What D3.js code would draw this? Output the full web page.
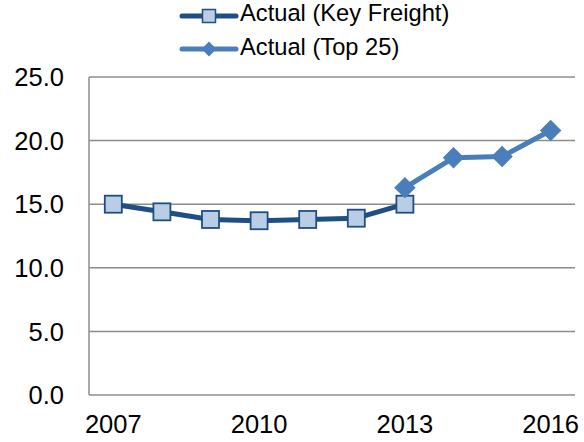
<!DOCTYPE html>
<html><head><meta charset="utf-8">
<script src="https://d3js.org/d3.v7.min.js"></script>
<style>body{margin:0;background:#fff}svg{display:block}text{font-family:"Liberation Sans",Arial,sans-serif;fill:#000}</style>
</head><body>
<script>
const years = [2007,2008,2009,2010,2011,2012,2013,2014,2015,2016];
const keyFreight = [15.0,14.4,13.8,13.7,13.8,13.9,15.0,null,null,null];
const top25 = [null,null,null,null,null,null,16.3,18.65,18.75,20.8];
const yTicks = [0,5,10,15,20,25];
const xTickLabels = [2007,2010,2013,2016];
const seriesNames = ["Actual (Key Freight)","Actual (Top 25)"];

const W=584,H=442;
const svg=d3.select("body").append("svg").attr("width",W).attr("height",H);
const m={l:89,r:9,t:77,b:47};
const x=d3.scalePoint().domain(years).range([m.l,W-m.r]).padding(0.5);
const y=d3.scaleLinear().domain([0,25]).range([H-m.b,m.t]);

svg.append("g").selectAll("line").data(yTicks.filter(d=>d>0)).join("line")
 .attr("x1",m.l).attr("x2",W-m.r).attr("y1",d=>y(d)).attr("y2",d=>y(d))
 .attr("stroke","#8c8c8c").attr("stroke-width",1.5);
svg.append("line").attr("x1",m.l).attr("x2",m.l).attr("y1",y(25)).attr("y2",y(0)).attr("stroke","#8c8c8c").attr("stroke-width",1.5);
svg.append("line").attr("x1",m.l).attr("x2",W-m.r).attr("y1",y(0)).attr("y2",y(0)).attr("stroke","#8c8c8c").attr("stroke-width",1.5);

svg.append("g").selectAll("text").data(yTicks).join("text")
 .attr("x",64).attr("y",d=>y(d)+9.2).attr("text-anchor","end")
 .attr("font-size",25.5).text(d=>d.toFixed(1));
svg.append("g").selectAll("text").data(xTickLabels).join("text")
 .attr("x",d=>x(d)).attr("y",433).attr("text-anchor","middle")
 .attr("font-size",25.5).text(d=>d);

const line=d3.line().defined(d=>d.v!=null).x(d=>x(d.y)).y(d=>y(d.v));
const kf=years.map((yr,i)=>({y:yr,v:keyFreight[i]}));
const tp=years.map((yr,i)=>({y:yr,v:top25[i]}));

const cDark="#1f4e85", cFill="#b9cde5", cMid="#4a7ebb";

svg.append("path").datum(kf).attr("d",line).attr("fill","none").attr("stroke",cDark).attr("stroke-width",5).attr("stroke-linejoin","round");
svg.append("path").datum(tp).attr("d",line).attr("fill","none").attr("stroke",cMid).attr("stroke-width",5).attr("stroke-linejoin","round");

const sq=17;
svg.append("g").selectAll("rect").data(kf.filter(d=>d.v!=null)).join("rect")
 .attr("x",d=>x(d.y)-sq/2).attr("y",d=>y(d.v)-sq/2).attr("width",sq).attr("height",sq)
 .attr("fill",cFill).attr("stroke",cDark).attr("stroke-width",1.8);
svg.append("g").selectAll("path").data(tp.filter(d=>d.v!=null)).join("path")
 .attr("transform",d=>`translate(${x(d.y)},${y(d.v)}) rotate(45)`)
 .attr("d",d3.symbol().type(d3.symbolSquare).size(200)).attr("fill",cMid).attr("stroke",cMid).attr("stroke-width",1);

const lg=svg.append("g");
const rows=[{n:seriesNames[0],y:16,b:21,c:cDark,t:"sq"},{n:seriesNames[1],y:49,b:54.5,c:cMid,t:"di"}];
rows.forEach(r=>{
 lg.append("line").attr("x1",182).attr("x2",236).attr("y1",r.y).attr("y2",r.y).attr("stroke",r.c).attr("stroke-width",5).attr("stroke-linecap","round");
 if(r.t==="sq") lg.append("rect").attr("x",209-6.5).attr("y",r.y-6.5).attr("width",13).attr("height",13).attr("fill",cFill).attr("stroke",cDark).attr("stroke-width",1.5);
 else lg.append("path").attr("transform",`translate(209,${r.y}) rotate(45)`).attr("d",d3.symbol().type(d3.symbolSquare).size(110)).attr("fill",cMid);
 lg.append("text").attr("x",240).attr("y",r.b).attr("font-size",23.7).text(r.n);
});
</script>
</body></html>
